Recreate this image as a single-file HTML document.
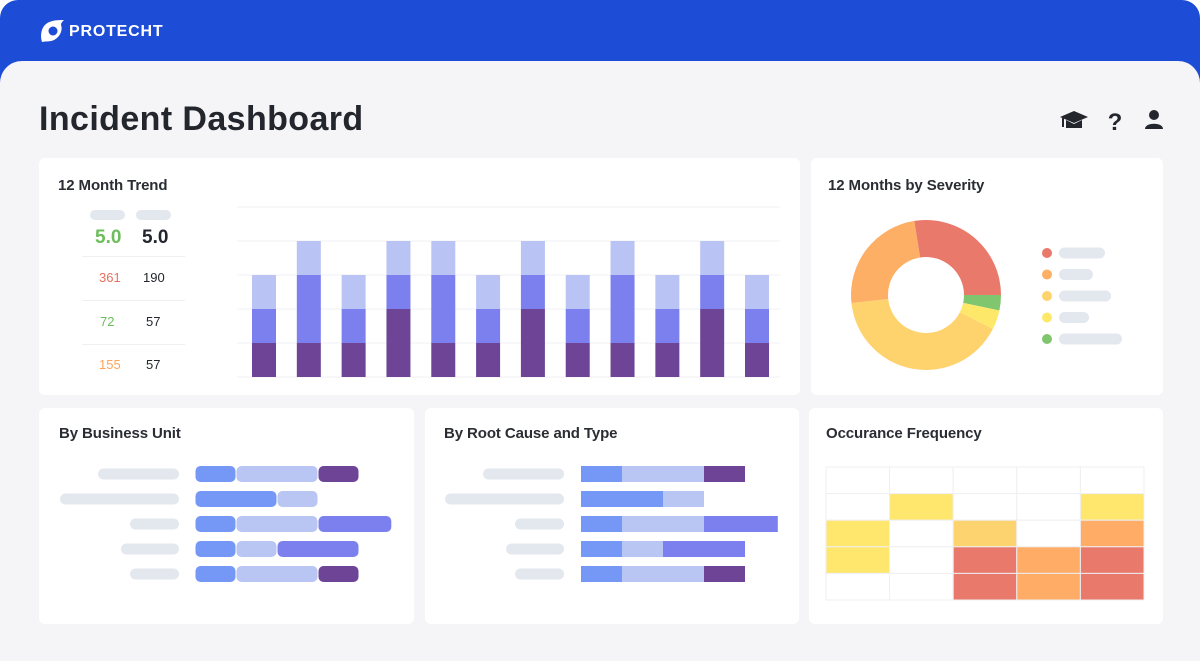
<!DOCTYPE html>
<html><head><meta charset="utf-8">
<style>
*{box-sizing:border-box;margin:0;padding:0}
body{width:1200px;height:661px;overflow:hidden;background:#fff;font-family:"Liberation Sans",sans-serif;position:relative}
.hdr{position:absolute;left:0;top:0;width:1200px;height:90px;background:#1D4CD6;border-radius:18px 18px 0 0}
.panel{position:absolute;left:0;top:61px;width:1200px;height:600px;background:#F5F5F7;border-radius:22px 22px 0 0}
.card{position:absolute;background:#fff;border-radius:6px}
.ct{position:absolute;font-size:15px;color:#2a2d33;font-weight:bold;letter-spacing:-0.1px}
.pill{position:absolute;background:#E3E7EE;border-radius:6px}
.abs{position:absolute}
</style></head><body>
<div class="hdr"></div>
<svg class="abs" style="left:38px;top:18px" width="30" height="26" viewBox="0 0 30 26">
<path d="M4 24 C2 18 3 10 8 6 C13 2 20 2 26 2 C24 4 23 5 23 7 C25 12 22 19 16 22 C12 24 8 23 4 24 Z" fill="#fff"/>
<circle cx="15" cy="13" r="4.5" fill="#1D4CD6"/>
</svg>
<div class="abs" style="left:69px;top:23px;color:#fff;font-weight:bold;font-size:16px;letter-spacing:0.8px">PROTECHT</div>
<div class="panel"></div>
<div class="abs" style="left:39px;top:100px;font-size:34px;color:#23262d;font-weight:bold;letter-spacing:0.4px">Incident Dashboard</div>
<svg class="abs" style="left:1058px;top:108px" width="110" height="26">
<g><path d="M2 9 L16 3 L30 9 L16 15 Z" fill="#23262d"/><path d="M8 12 L8 20 L24 20 L24 12 L16 16 Z" fill="#23262d"/><rect x="4" y="10" width="2" height="9" fill="#23262d"/></g>
<text x="57" y="22" font-size="24" font-weight="bold" fill="#23262d" text-anchor="middle" font-family="Liberation Sans">?</text>
<g><circle cx="96" cy="7" r="5" fill="#23262d"/><path d="M87 21 C87 14 105 14 105 21 Z" fill="#23262d"/></g>
</svg>

<div class="card" style="left:39px;top:158px;width:761px;height:237px"></div>
<div class="ct" style="left:58px;top:177px">12 Month Trend</div>
<div class="pill" style="left:90px;top:210px;width:35px;height:10px"></div>
<div class="pill" style="left:136px;top:210px;width:35px;height:10px"></div>
<div class="abs" style="left:95px;top:227px;font-size:19px;color:#6DBE5B;font-weight:600">5.0</div>
<div class="abs" style="left:142px;top:227px;font-size:19px;color:#23262d;font-weight:600">5.0</div>
<div class="abs" style="left:82px;top:256px;width:103px;height:1px;background:#EEF0F3"></div>
<div class="abs" style="left:82px;top:300px;width:103px;height:1px;background:#EEF0F3"></div>
<div class="abs" style="left:82px;top:344px;width:103px;height:1px;background:#EEF0F3"></div>
<div class="abs" style="left:99px;top:270px;font-size:13px;color:#E8705F">361</div>
<div class="abs" style="left:143px;top:270px;font-size:13px;color:#23262d">190</div>
<div class="abs" style="left:100px;top:314px;font-size:13px;color:#6DBE5B">72</div>
<div class="abs" style="left:146px;top:314px;font-size:13px;color:#23262d">57</div>
<div class="abs" style="left:99px;top:357px;font-size:13px;color:#FDA55A">155</div>
<div class="abs" style="left:146px;top:357px;font-size:13px;color:#23262d">57</div>
<svg id="trend" class="abs" style="left:0;top:0" width="800" height="395"></svg>

<div class="card" style="left:811px;top:158px;width:352px;height:237px"></div>
<div class="ct" style="left:828px;top:177px">12 Months by Severity</div>
<svg id="donut" class="abs" style="left:811px;top:158px" width="352" height="237"></svg>

<div class="card" style="left:39px;top:408px;width:375px;height:216px"></div>
<div class="ct" style="left:59px;top:425px">By Business Unit</div>
<div class="card" style="left:425px;top:408px;width:374px;height:216px"></div>
<div class="ct" style="left:444px;top:425px">By Root Cause and Type</div>
<svg id="bars" class="abs" style="left:0;top:0" width="800" height="661"></svg>

<div class="card" style="left:809px;top:408px;width:354px;height:216px"></div>
<div class="ct" style="left:826px;top:425px">Occurance Frequency</div>
<svg id="heat" class="abs" style="left:0;top:0" width="1200" height="661"></svg>

<script>
const NS='http://www.w3.org/2000/svg';
function mk(p,t,a){const e=document.createElementNS(NS,t);for(const k in a)e.setAttribute(k,a[k]);p.appendChild(e);return e;}

// Trend chart data (units)
const months=['M1','M2','M3','M4','M5','M6','M7','M8','M9','M10','M11','M12'];
const darkSeries=[1,1,1,2,1,1,2,1,1,1,2,1];
const midSeries=[1,2,1,1,2,1,1,1,2,1,1,1];
const lightSeries=[1,1,1,1,1,1,1,1,1,1,1,1];
const trendTicks=[0,1,2,3,4,5];

// Severity donut
const sevLabels=['Critical','High','Medium','Low','Minimal'];
const sevValues=[27.5,24.2,40.8,4.2,3.3];
const sevLegendWidths=[46,34,52,30,63];

// Business unit bars
const buCats=['BU A','BU B','BU C','BU D','BU E'];
const buS1=[1,2,1,1,1];
const buS2=[2,1,2,1,2];
const buS3=[1,0,1.8,2,1];
const buLabelW=[81,119,49,58,49];
// Root cause bars
const rcCats=['RC A','RC B','RC C','RC D','RC E'];
const rcS1=[1,2,1,1,1];
const rcS2=[2,1,2,1,2];
const rcS3=[1,0,1.8,2,1];
const rcLabelW=[81,119,49,58,49];

// Heatmap levels 0 none,1 yellow,2 light orange,3 orange,4 red
const heatRows=[[0,0,0,0,0],[0,1,0,0,1],[1,0,2,0,3],[1,0,4,3,4],[0,0,4,3,4]];

// --- trend
(function(){
const s=document.getElementById('trend');
const x0=237,x1=780,yb=377,unit=34,bw=24;
const y=v=>yb-v*unit;
const pad=27;
const step=(x1-x0-2*pad+4)/(months.length-1);
const xc=i=>x0+pad+i*step;
trendTicks.forEach(t=>{const l=mk(s,'line',{x1:x0,x2:x1,y1:y(t),y2:y(t),stroke:'#F0F1F4','stroke-width':1});
});
months.forEach((m,i)=>{
 const segs=[[darkSeries[i],'#6E4596'],[midSeries[i],'#7C80EE'],[lightSeries[i],'#B9C4F5']];
 let acc=0;
 segs.forEach(([v,c])=>{const r=mk(s,'rect',{x:xc(i)-bw/2,y:y(acc+v),width:bw,height:v*unit,fill:c});
 acc+=v;});
});
})();

// --- donut
(function(){
const s=document.getElementById('donut');
const cx=115,cy=137,R=75,r=38;
const colors=['#E9796B','#FDAF66','#FED36E','#FEE86A','#7FC66F'];
const order=[0,4,3,2,1];
const tot=sevValues.reduce((a,b)=>a+b,0);
let a=-9*Math.PI/180;
order.forEach(i=>{
 const da=sevValues[i]/tot*2*Math.PI,b=a+da;
 const p=(ang,rad)=>[cx+rad*Math.sin(ang),cy-rad*Math.cos(ang)];
 const [x1,y1]=p(a,R),[x2,y2]=p(b,R),[x3,y3]=p(b,r),[x4,y4]=p(a,r);
 const lg=da>Math.PI?1:0;
 const e=mk(s,'path',{d:`M${x1} ${y1}A${R} ${R} 0 ${lg} 1 ${x2} ${y2}L${x3} ${y3}A${r} ${r} 0 ${lg} 0 ${x4} ${y4}Z`,fill:colors[i]});
 
 
 a=b;
});
sevLabels.forEach((l,i)=>{
 const yy=95+i*21.5;
 const d=mk(s,'circle',{cx:236,cy:yy,r:5,fill:colors[i]});
 
 const p=mk(s,'rect',{x:248,y:yy-5.5,width:sevLegendWidths[i],height:11,rx:5.5,fill:'#E3E7EE'});
 
});
})();

// --- horizontal bars
(function(){
const s=document.getElementById('bars');
const cols=['#7597F5','#B9C6F4'];
function draw(cats,a,b,c,lw,x0,labR,rnd){
 const unit=41,h=16;
 cats.forEach((k,i)=>{
  const yc=474+i*25;
  const p=mk(s,'rect',{x:labR-lw[i],y:yc-5.5,width:lw[i],height:11,rx:5.5,fill:'#E3E7EE'});
  
  const c3=(i==0||i==4)?'#6E4596':'#7C80EE';
  let acc=0;
  [[a[i],cols[0]],[b[i],cols[1]],[c[i],c3]].forEach(([v,cl])=>{
   if(v<=0)return;
   const r=mk(s,'rect',{x:x0+acc*unit+(rnd?0.5:0),y:yc-h/2,width:v*unit-(rnd?1:0),height:h,rx:rnd?5:0,fill:cl});
   
   acc+=v;
  });
 });
}
draw(buCats,buS1,buS2,buS3,buLabelW,195,179,true);
draw(rcCats,rcS1,rcS2,rcS3,rcLabelW,581,564,false);
})();

// --- heatmap
(function(){
const s=document.getElementById('heat');
const hc=['#FFFFFF','#FEE76C','#FCD36E','#FEAC66','#E8796B'];
const x0=826,y0=467,cw=63.6,ch=26.6;
heatRows.forEach((row,ri)=>row.forEach((v,ci)=>{
 const r=mk(s,'rect',{x:x0+ci*cw,y:y0+ri*ch,width:cw,height:ch,fill:hc[v],stroke:'#EFEFF2','stroke-width':1});
 
}));
})();
</script>
</body></html>
